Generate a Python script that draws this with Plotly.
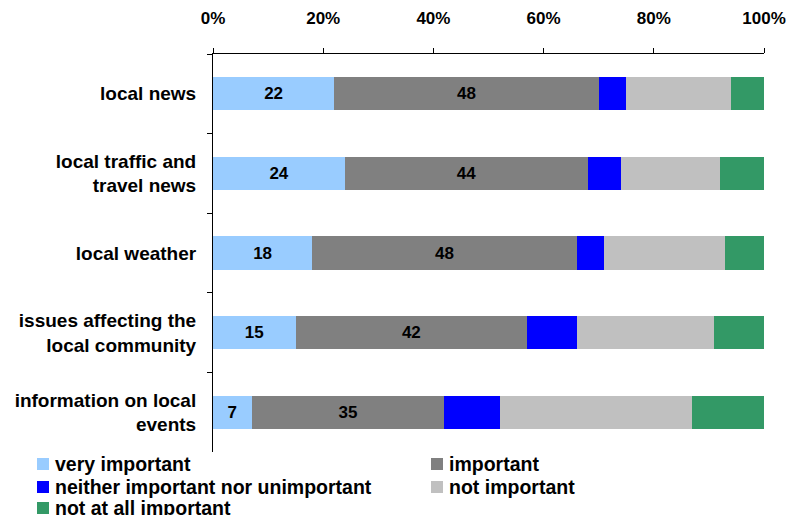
import plotly.graph_objects as go

categories = [
    "local news",
    "local traffic and<br>travel news",
    "local weather",
    "issues affecting the<br>local community",
    "information on local<br>events",
]
very_important = [22, 24, 18, 15, 7]
important = [48, 44, 48, 42, 35]
neither = [5, 6, 5, 9, 10]
not_important = [19, 18, 22, 25, 35]
not_at_all = [6, 8, 7, 9, 13]

series = [
    ("very important", very_important, "#99CCFF", True),
    ("important", important, "#808080", True),
    ("neither important nor unimportant", neither, "#0000FF", False),
    ("not important", not_important, "#C0C0C0", False),
    ("not at all important", not_at_all, "#339966", False),
]

font_family = "Liberation Sans, Arial, sans-serif"

W, H = 790, 515
M_L, M_R, M_T, M_B = 213, 26, 54, 63
PLOT_W = W - M_L - M_R
PLOT_H = H - M_T - M_B

fig = go.Figure()
for name, vals, color, labelled in series:
    fig.add_trace(go.Bar(
        y=categories,
        x=vals,
        name=name,
        orientation="h",
        marker=dict(color=color, line=dict(width=0)),
        text=[str(v) for v in vals] if labelled else None,
        textposition="inside" if labelled else "none",
        insidetextanchor="middle",
        textangle=0,
        textfont=dict(family=font_family, size=17, color="black", weight="bold"),
        hoverinfo="skip",
        showlegend=False,
    ))

# Legend drawn as a two-column key beneath the plot area
def to_paper(px, py):
    return (px - M_L) / PLOT_W, (H - M_B - py) / PLOT_H

col_x = [37, 431]
row_y = [464, 487, 508]
shapes = []
annotations = []
for i, (name, _, color, _) in enumerate(series):
    cx = col_x[i % 2]
    cy = row_y[i // 2]
    x0, y0 = to_paper(cx, cy + 6)
    x1, y1 = to_paper(cx + 12, cy - 6)
    shapes.append(dict(type="rect", xref="paper", yref="paper",
                       x0=x0, x1=x1, y0=y0, y1=y1,
                       fillcolor=color, line=dict(width=0)))
    tx, ty = to_paper(cx + 16, cy)
    annotations.append(dict(xref="paper", yref="paper", x=tx, y=ty,
                            xanchor="left", yanchor="middle", showarrow=False,
                            text=name,
                            font=dict(family=font_family, size=19.5,
                                      color="black", weight="bold")))

fig.update_layout(
    barmode="stack",
    bargap=0.585,
    width=W,
    height=H,
    margin=dict(l=M_L, r=M_R, t=M_T, b=M_B, autoexpand=False),
    paper_bgcolor="white",
    plot_bgcolor="white",
    font=dict(family=font_family, size=19, color="black", weight="bold"),
    uniformtext=dict(mode="show", minsize=10),
    showlegend=False,
    shapes=shapes,
    annotations=annotations,
    xaxis=dict(
        side="top",
        range=[0, 100],
        dtick=20,
        ticksuffix="%",
        showgrid=False,
        zeroline=False,
        showline=True,
        linecolor="black",
        linewidth=1,
        ticks="outside",
        ticklen=5,
        tickcolor="black",
        tickfont=dict(size=17, weight="bold"),
        ticklabelstandoff=17,
    ),
    yaxis=dict(
        autorange="reversed",
        showgrid=False,
        showline=True,
        linecolor="black",
        linewidth=1,
        ticks="outside",
        tickson="boundaries",
        ticklen=5,
        tickcolor="black",
        tickfont=dict(size=19, weight="bold"),
        ticklabelstandoff=12,
    ),
)

fig.write_html("out.html")
